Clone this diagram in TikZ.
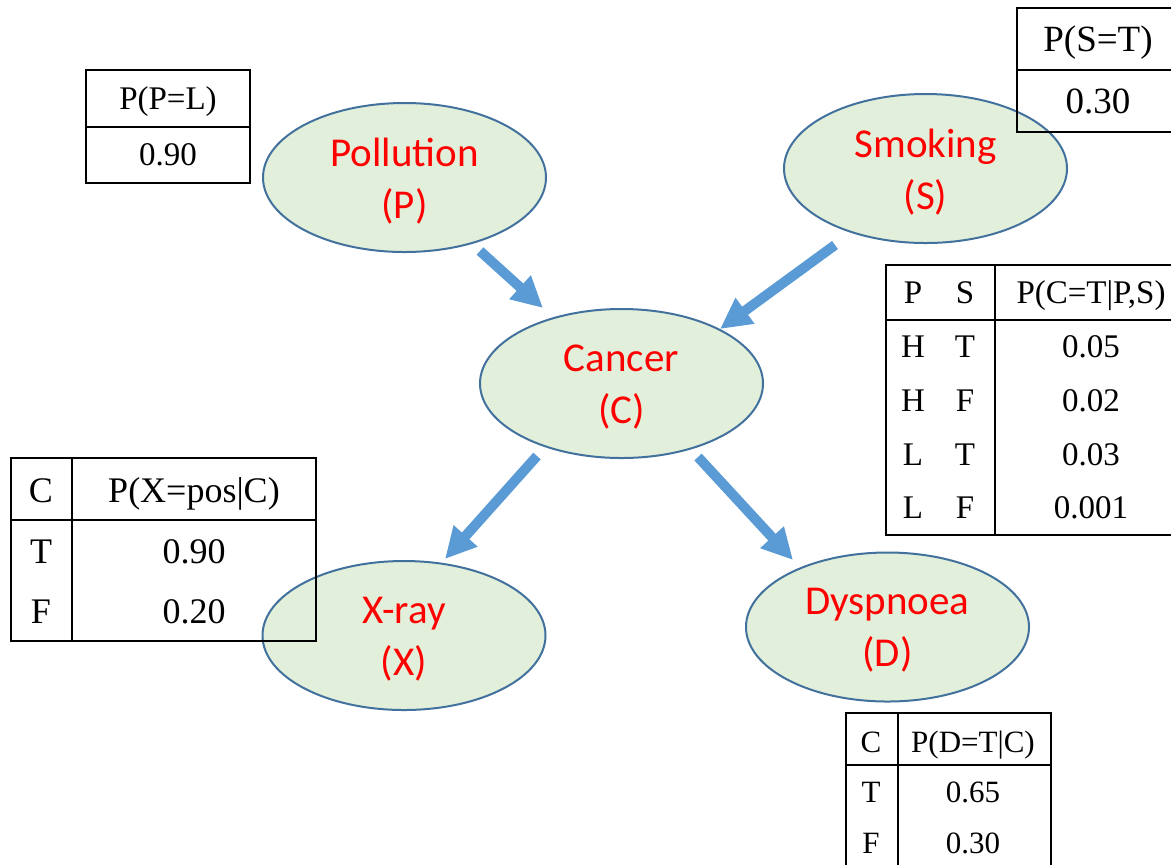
\documentclass[tikz,border=0pt]{standalone}
\usepackage{fontspec}
\setmainfont{Liberation Serif}
\newfontfamily\labelfont{Carlito}
\usetikzlibrary{shapes.geometric,arrows.meta}
\definecolor{nodefill}{HTML}{E2EFDA}
\definecolor{nodeline}{HTML}{41719C}
\definecolor{arrowblue}{HTML}{5B9BD5}
\definecolor{labelred}{HTML}{FF0000}

\begin{document}
\begin{tikzpicture}[x=0.5pt,y=-0.5pt,
  var/.style={ellipse, draw=nodeline, line width=1pt, fill=nodefill,
    minimum width=141.5pt, minimum height=74.5pt, inner sep=0pt},
  vartext/.style={inner sep=0pt, text=labelred, align=center,
    font=\labelfont\fontsize{20.5}{26}\selectfont},
  link/.style={draw=arrowblue, line width=5pt,
    -{Triangle[length=15.5pt,width=15pt]}},
  grid/.style={draw=black, line width=0.75pt},
  cell/.style={inner sep=0pt, anchor=center, text depth=0pt},
  cellS/.style={cell, font=\fontsize{15.5}{18}\selectfont, text height=10.3pt},
  cellM/.style={cell, font=\fontsize{16.5}{20}\selectfont, text height=10.9pt},
  cellL/.style={cell, font=\fontsize{18}{22}\selectfont, text height=11.9pt},
  cellXL/.style={cell, font=\fontsize{18.5}{22}\selectfont, text height=12.2pt},
]
\clip (0,0) rectangle (1171,864);

% network variables
\node[var] (P) at (404.5,177.5) {};
\node[var] (S) at (925.5,168.5) {};
\node[var] (C) at (621.5,383.5) {};
\node[var] (X) at (404,635.5) {};
\node[var] (D) at (887.5,627) {};
\node[vartext] (P-txt) at ([yshift=-1.8pt]P.center) {Pollution\\(P)};
\node[vartext] (S-txt) at ([yshift=-1.8pt]S.center) {Smoking\\(S)};
\node[vartext] (C-txt) at ([yshift=-1.8pt]C.center) {Cancer\\(C)};
\node[vartext] (X-txt) at ([yshift=-1.8pt]X.center) {X-ray\\(X)};
\node[vartext] (D-txt) at ([yshift=-1.8pt]D.center) {Dyspnoea\\(D)};

% causal links
\coordinate (PCs) at (480,251);  \coordinate (PCe) at (543,308);
\coordinate (SCs) at (835,245);  \coordinate (SCe) at (720,329);
\coordinate (CXs) at (537,456);  \coordinate (CXe) at (445,559);
\coordinate (CDs) at (698,457);  \coordinate (CDe) at (793,560);
\draw[link] (PCs) -- (PCe);
\draw[link] (SCs) -- (SCe);
\draw[link] (CXs) -- (CXe);
\draw[link] (CDs) -- (CDe);

% prior of P
\draw[grid] (86,70) rectangle (250,183);
\draw[grid] (86,127) -- (250,127);
\node[cellM] (pP-h) at (168,98.5) {P(P=L)};
\node[cellM] (pP-v) at (168,155) {0.90};

% prior of S
\draw[grid] (1017,8) rectangle (1179,132);
\draw[grid] (1017,70) -- (1179,70);
\node[cellXL] (pS-h) at (1098,39) {P(S=T)};
\node[cellXL] (pS-v) at (1098,101) {0.30};

% CPT of C
\draw[grid] (886,265) rectangle (1187,535);
\draw[grid] (886,320) -- (1187,320);
\draw[grid] (995,265) -- (995,535);
\node[cellM] (pC-hP) at (913,292.5) {P};
\node[cellM] (pC-hS) at (965,292.5) {S};
\node[cellM] (pC-h)  at (1091,292.5) {P(C=T|P,S)};
\node[cellM] (pC-1P) at (913,347) {H};
\node[cellM] (pC-1S) at (965,347) {T};
\node[cellM] (pC-1)  at (1091,347) {0.05};
\node[cellM] (pC-2P) at (913,401) {H};
\node[cellM] (pC-2S) at (965,401) {F};
\node[cellM] (pC-2)  at (1091,401) {0.02};
\node[cellM] (pC-3P) at (913,454.5) {L};
\node[cellM] (pC-3S) at (965,454.5) {T};
\node[cellM] (pC-3)  at (1091,454.5) {0.03};
\node[cellM] (pC-4P) at (913,508) {L};
\node[cellM] (pC-4S) at (965,508) {F};
\node[cellM] (pC-4)  at (1091,508) {0.001};

% CPT of X
\draw[grid] (11,458) rectangle (316,641);
\draw[grid] (11,520) -- (316,520);
\draw[grid] (72,458) -- (72,641);
\node[cellL] (pX-hC) at (41,491) {C};
\node[cellL] (pX-h)  at (194,491) {P(X=pos|C)};
\node[cellL] (pX-1C) at (41,552) {T};
\node[cellL] (pX-1)  at (194,552) {0.90};
\node[cellL] (pX-2C) at (41,611.5) {F};
\node[cellL] (pX-2)  at (194,611.5) {0.20};

% CPT of D
\draw[grid] (846,713) rectangle (1051,900);
\draw[grid] (846,765) -- (1051,765);
\draw[grid] (898,713) -- (898,900);
\node[cellS] (pD-hC) at (871,742) {C};
\node[cellS] (pD-h)  at (973,742) {P(D=T|C)};
\node[cellS] (pD-1C) at (871,792) {T};
\node[cellS] (pD-1)  at (973,792) {0.65};
\node[cellS] (pD-2C) at (871,843) {F};
\node[cellS] (pD-2)  at (973,843) {0.30};
\end{tikzpicture}
\end{document}
